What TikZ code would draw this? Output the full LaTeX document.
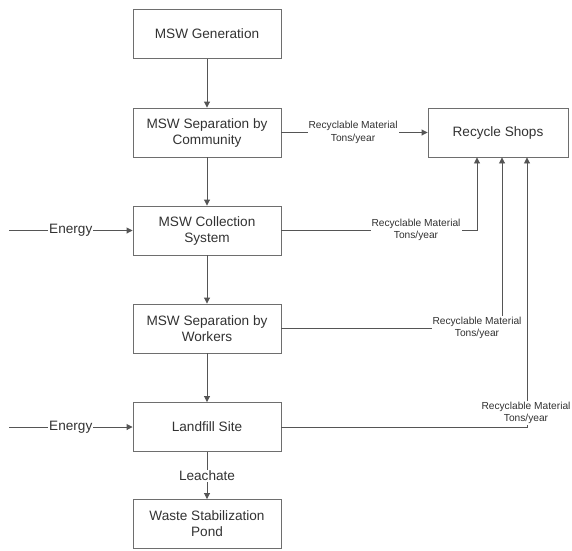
\documentclass[tikz,border=0pt]{standalone}
\usepackage{fontspec}
\setmainfont{Liberation Sans}
\usetikzlibrary{arrows.meta,calc}
\definecolor{linegray}{RGB}{85,85,85}
\definecolor{boxgray}{RGB}{110,110,110}
\definecolor{txtgray}{RGB}{50,50,50}
\begin{document}
\begin{tikzpicture}[x=1pt,y=-1pt,
  box/.style={draw=boxgray,line width=0.9pt,minimum width=148pt,minimum height=49pt,
    inner sep=0pt,align=center,font=\fontsize{13.6}{16}\selectfont,text=txtgray},
  conn/.style={draw=linegray,line width=0.9pt},
  arr/.style={conn,-{Triangle[length=6pt,width=6pt]}},
  small/.style={fill=white,inner sep=1pt,align=center,text=txtgray,
    font=\fontsize{10.2}{12.5}\selectfont},
  big/.style={fill=white,inner sep=1pt,text=txtgray,font=\fontsize{13.6}{16}\selectfont}]
\useasboundingbox (0,0) rectangle (572,550);
\node[box] (gen)  at (207,34)    {MSW Generation};
\node[box] (comm) at (207,132.5) {MSW Separation by\\Community};
\node[box] (coll) at (207,230.5) {MSW Collection\\System};
\node[box] (work) at (207,328.5) {MSW Separation by\\Workers};
\node[box] (land) at (207,427)   {Landfill Site};
\node[box] (pond) at (207,524)   {Waste Stabilization\\Pond};
\node[box,minimum width=140pt] (rec) at (498,132.5) {Recycle Shops};
\coordinate (e1) at (9,230.5);
\coordinate (e2) at (9,427);
\draw[arr] (gen) -- (comm);
\draw[arr] (comm) -- (coll);
\draw[arr] (coll) -- (work);
\draw[arr] (work) -- (land);
\draw[arr] (land) -- node[big] (lea) {Leachate} (pond);
\draw[arr] (e1) -- node[big,pos=0.5] (en1) {Energy} (coll.west);
\draw[arr] (e2) -- node[big,pos=0.5] (en2) {Energy} (land.west);
\draw[arr] (comm.east) -- node[small,pos=0.49] (l1) {Recyclable Material\\Tons/year} (rec.west);
\coordinate (c2) at ([xshift=-21pt]rec.south);
\coordinate (c3) at ([xshift=4pt]rec.south);
\coordinate (c4) at ([xshift=29pt]rec.south);
\draw[arr] (coll.east) -| (c2);
\node[small] (l2) at (416,230) {Recyclable Material\\Tons/year};
\draw[arr] (work.east) -| (c3);
\node[small] (l3) at (477,328) {Recyclable Material\\Tons/year};
\draw[arr] (land.east) -| (c4);
\node[small] (l4) at (526,413) {Recyclable Material\\Tons/year};
\end{tikzpicture}
\end{document}
